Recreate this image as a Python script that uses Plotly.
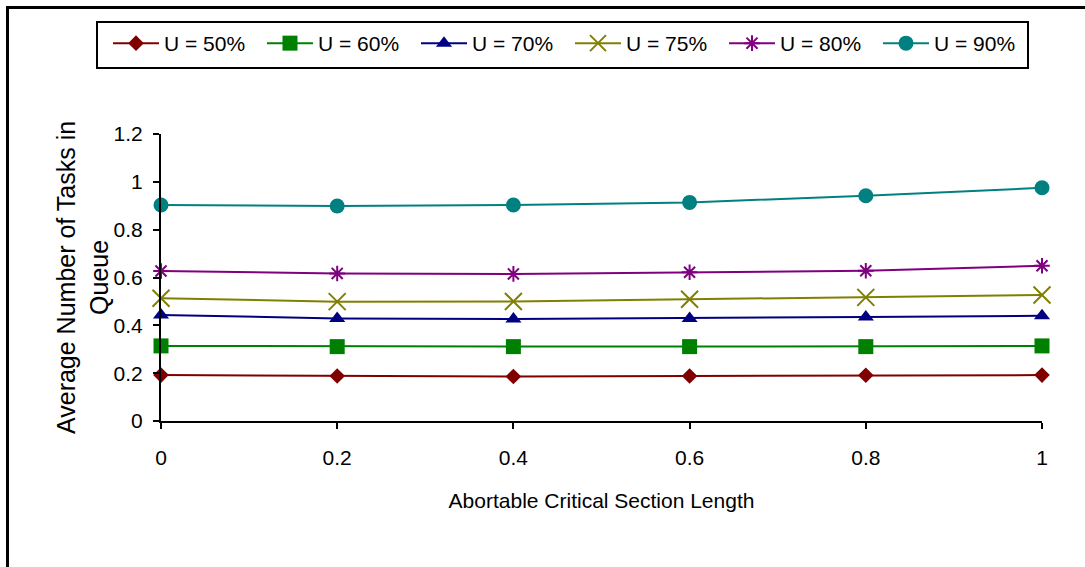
import plotly.graph_objects as go

# Abortable critical section length (x) vs. average queue length per utilisation level
section_length = [0, 0.2, 0.4, 0.6, 0.8, 1.0]
series_names = ["U = 50%", "U = 60%", "U = 70%", "U = 75%", "U = 80%", "U = 90%"]
u50 = [0.192, 0.188, 0.186, 0.188, 0.191, 0.192]
u60 = [0.314, 0.311, 0.311, 0.311, 0.311, 0.314]
u70 = [0.443, 0.429, 0.426, 0.429, 0.435, 0.440]
u75 = [0.513, 0.499, 0.500, 0.509, 0.517, 0.527]
u80 = [0.627, 0.617, 0.615, 0.622, 0.628, 0.649]
u90 = [0.903, 0.899, 0.903, 0.914, 0.942, 0.975]
y_ticks = [0, 0.2, 0.4, 0.6, 0.8, 1.0, 1.2]
x_ticks = [0, 0.2, 0.4, 0.6, 0.8, 1.0]

series_values = [u50, u60, u70, u75, u80, u90]
colors = ["#800000", "#008000", "#000080", "#808000", "#800080", "#008080"]
symbols = ["diamond", "square", "triangle-up", "x-thin", "asterisk", "circle"]
sizes = [12, 15, 14, 17, 13, 15]

FONT = "Liberation Sans, Arial, sans-serif"
W, H = 1085, 567
L, R, T, B = 161, 43, 134, 146
PW, PH = W - L - R, H - T - B


def px_to_paper_x(px):
    return (px - L) / PW


def px_to_paper_y(py):
    return (H - B - py) / PH


fig = go.Figure()
for name, vals, col, sym, sz in zip(series_names, series_values, colors, symbols, sizes):
    thin = sym in ("x-thin", "asterisk")
    fig.add_trace(go.Scatter(
        x=section_length, y=vals, name=name, mode="lines+markers",
        line=dict(color=col, width=2),
        marker=dict(symbol=sym, size=sz, color=col,
                    line=dict(color=col, width=2 if thin else 0)),
        cliponaxis=False,
    ))

axis_common = dict(showgrid=False, zeroline=False, linecolor="black", linewidth=2,
                   ticks="outside", ticklen=6, tickwidth=2, tickcolor="black",
                   tickfont=dict(family=FONT, size=21, color="black"))

fig.update_layout(
    width=W, height=H,
    margin=dict(l=L, r=R, t=T, b=B, pad=0),
    paper_bgcolor="white", plot_bgcolor="white",
    font=dict(family=FONT, size=21, color="black"),
    xaxis=dict(range=[0, 1], tickvals=x_ticks, showline=True,
               ticklabelstandoff=11,
               title=dict(text="Abortable Critical Section Length",
                          font=dict(family=FONT, size=21), standoff=25),
               **axis_common),
    yaxis=dict(range=[0, 1.2], tickvals=y_ticks, showline=True,
               ticklabelstandoff=6, **axis_common),
    # second pair of axes adds the inward half of the crossing tick marks
    xaxis2=dict(overlaying="x", anchor="y", range=[0, 1], tickvals=x_ticks,
                ticks="inside", ticklen=7, tickwidth=2, tickcolor="black",
                showticklabels=False, showgrid=False, zeroline=False, showline=False),
    yaxis2=dict(overlaying="y", anchor="x", range=[0, 1.2], tickvals=y_ticks,
                ticks="inside", ticklen=7, tickwidth=2, tickcolor="black",
                showticklabels=False, showgrid=False, zeroline=False, showline=False),
    legend=dict(orientation="h", x=px_to_paper_x(108), y=px_to_paper_y(23),
                xanchor="left", yanchor="top",
                bgcolor="rgba(0,0,0,0)", borderwidth=0,
                font=dict(family=FONT, size=21, color="black"),
                itemwidth=46, entrywidth=93, entrywidthmode="pixels"),
    showlegend=True,
)

# legend frame
fig.add_shape(type="rect", xref="paper", yref="paper",
              x0=px_to_paper_x(97), x1=px_to_paper_x(1028),
              y0=px_to_paper_y(68), y1=px_to_paper_y(22),
              line=dict(color="black", width=2), fillcolor="rgba(0,0,0,0)",
              layer="below")

fig.add_annotation(
    text="Average Number of Tasks in<br>Queue", textangle=-90,
    xref="paper", yref="paper", x=px_to_paper_x(82), y=px_to_paper_y(278),
    xanchor="center", yanchor="middle", showarrow=False,
    font=dict(family=FONT, size=25, color="black"),
)

# outer chart frame, running off the right and bottom edges
fig.add_shape(type="rect", xref="paper", yref="paper",
              x0=px_to_paper_x(7.5), y0=px_to_paper_y(W), x1=px_to_paper_x(W + 20),
              y1=px_to_paper_y(7.5), line=dict(color="black", width=3),
              fillcolor="rgba(0,0,0,0)", layer="above")

fig.write_html("out.html")
